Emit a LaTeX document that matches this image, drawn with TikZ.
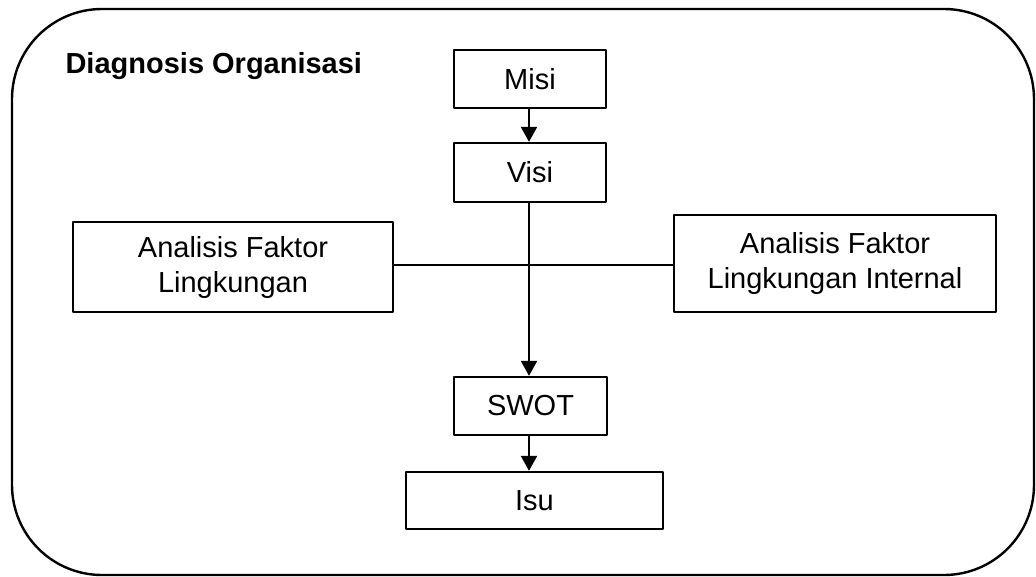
\documentclass[tikz,border=0pt]{standalone}
\usepackage{fontspec}
\setmainfont{Liberation Sans}
\usetikzlibrary{arrows.meta}
\begin{document}
\begin{tikzpicture}[x=1pt,y=-1pt,line join = round,>={Triangle[length=15pt,width=16pt]},
	font=\fontsize{29}{35}\selectfont,
	kotak/.style={draw,line width=2.4pt,inner sep=0pt,align=center},
	garis/.style={line width=2.4pt}]
			\useasboundingbox (0,0) rectangle (1036,576);
			\draw[line width=2.4pt,rounded corners=90pt] (12,9) rectangle (1034,575);
			\node[anchor=base west,font=\fontsize{29}{35}\selectfont\bfseries] (judul) at (62,73) {Diagnosis Organisasi};
			\node[kotak,minimum width=152pt,minimum height=58pt] (misi) at (530,79) {Misi};
			\node[kotak,minimum width=152pt,minimum height=59pt] (visi) at (530,172.5) {Visi};
			\node[kotak,minimum width=320pt,minimum height=90pt] (kiri) at (233,267) {Analisis Faktor\\Lingkungan};
			\node[kotak,minimum width=322pt,minimum height=97pt] (kanan) at (835,263.5) {Analisis Faktor\\Lingkungan Internal};
			\node[kotak,minimum width=153pt,minimum height=58pt] (swot) at (530.5,406) {SWOT};
			\node[kotak,minimum width=257pt,minimum height=57pt] (isu) at (534.5,500.5) {Isu};
			\draw[garis,->] (misi.south -| 529,0) -- (visi.north -| 529,0);
			\draw[garis,->] (visi.south -| 529,0) -- (swot.north -| 529,0);
			\draw[garis] (kiri.east |- 0,265) -- (kanan.west |- 0,265);
			\draw[garis,->] (swot.south -| 529,0) -- (isu.north -| 529,0);
		\end{tikzpicture}
\end{document}
